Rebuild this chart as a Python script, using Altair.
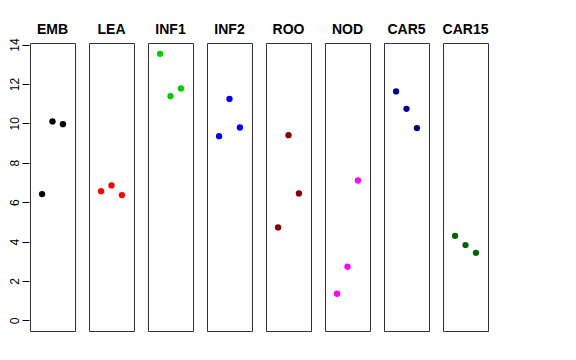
import altair as alt
import pandas as pd

groups = ["EMB", "LEA", "INF1", "INF2", "ROO", "NOD", "CAR5", "CAR15"]
colors = ["#000000", "#FF0000", "#00CD00", "#0000FF", "#8B0000", "#FF00FF", "#00008B", "#006400"]
positions = [1, 2, 3]
values = {
    "EMB": [6.41, 10.10, 9.96],
    "LEA": [6.56, 6.85, 6.36],
    "INF1": [13.53, 11.38, 11.77],
    "INF2": [9.35, 11.24, 9.79],
    "ROO": [4.72, 9.40, 6.44],
    "NOD": [1.35, 2.72, 7.10],
    "CAR5": [11.62, 10.74, 9.76],
    "CAR15": [4.29, 3.82, 3.43],
}
y_ticks = [0, 2, 4, 6, 8, 10, 12, 14]

rows = []
for g in groups:
    for p, v in zip(positions, values[g]):
        rows.append({"group": g, "pos": p, "value": v})
df = pd.DataFrame(rows)

font = "Liberation Sans"

chart = alt.Chart(df).mark_point(filled=True, size=40, opacity=1, strokeWidth=0).encode(
    x=alt.X("pos:Q", scale=alt.Scale(domain=[-0.16, 4.16], nice=False, zero=False), axis=None),
    y=alt.Y("value:Q", scale=alt.Scale(domain=[-0.54, 14.08], nice=False, zero=False),
            axis=alt.Axis(values=y_ticks, title=None, grid=False, domain=False,
                          tickColor="black", tickSize=7, labelColor="black",
                          labelFontSize=12, labelFont=font, labelAngle=270,
                          labelAlign="center", labelBaseline="bottom", labelPadding=1,
                          minExtent=17, maxExtent=17)),
    color=alt.Color("group:N", scale=alt.Scale(domain=groups, range=colors), legend=None),
).properties(width=45, height=288).facet(
    column=alt.Column("group:N", sort=groups,
                      header=alt.Header(title=None, labelFontWeight="bold", labelFontSize=14,
                                        labelFont=font, labelColor="black", labelPadding=5)),
    spacing=12,
).configure_view(stroke="#333333", strokeWidth=1).properties(
    padding={"left": 0, "top": 15, "right": 5, "bottom": 5}
)

chart.save("out.html", embed_options={"renderer": "svg", "actions": False})
